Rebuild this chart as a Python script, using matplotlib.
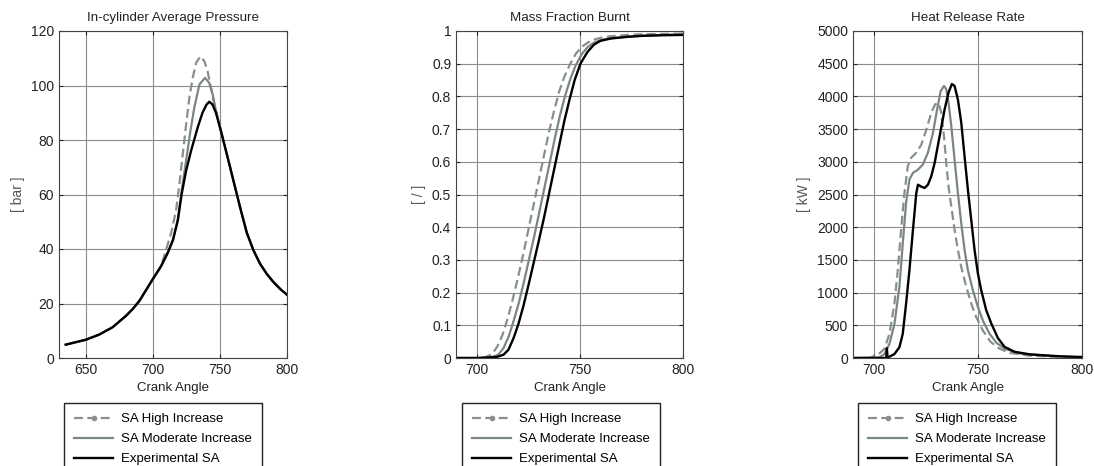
import numpy as np
import matplotlib
matplotlib.use("Agg")
import matplotlib.pyplot as plt
from matplotlib.lines import Line2D

plt.rcParams['font.family'] = ['Liberation Sans', 'DejaVu Sans']

# --- In-cylinder average pressure [bar] ---
p_exp_x = [635, 640, 650, 660, 670, 680, 685, 690, 695, 700, 706, 711, 715, 718.6, 721.5, 724.8,
           728.5, 733.4, 737, 740, 742.1, 744.5, 747, 750.7, 755.7, 760.6, 765.6, 770, 775, 780,
           785, 790, 795, 800]
p_exp_y = [4.9, 5.5, 6.7, 8.6, 11.3, 15.5, 18, 21, 25, 29, 33.6, 38.5, 43.3, 50.6, 60.3, 68.8,
           76.1, 84.6, 90, 93, 94.05, 93, 90, 83.4, 73.7, 64, 54.2, 46, 39.5, 34.5,
           30.8, 27.8, 25.3, 23.2]
p_mod_x = [635, 640, 650, 660, 670, 680, 685, 690, 695, 700, 706, 711, 714.9, 718.6, 721.5, 724.8,
           728, 730.9, 734.7, 738.9, 742, 744.6, 747, 750.7, 755.7, 760.6, 765.6, 770, 775, 780,
           785, 790, 795, 800]
p_mod_y = [4.9, 5.5, 6.7, 8.6, 11.3, 15.5, 18, 21, 25, 29, 33.6, 38.5, 43.3, 50.6, 61.5, 72.5,
           83.4, 91.9, 100.4, 102.8, 101, 96.7, 90.7, 83.4, 73.7, 64, 54.2, 46, 39.5, 34.5,
           30.8, 27.8, 25.3, 23.2]
p_high_x = [635, 640, 650, 660, 670, 680, 685, 690, 695, 700, 706, 709.9, 713.6, 717.3, 719.8,
            722.3, 724.8, 727.2, 729.7, 732.2, 735.4, 738.4, 740.8, 743.3, 745.8, 747.8, 750.7,
            755.7, 760.6, 765.6, 770, 775, 780, 785, 790, 795, 800]
p_high_y = [4.9, 5.5, 6.7, 8.6, 11.3, 15.5, 18, 21, 25, 29, 33.6, 39.8, 45.8, 54.2, 64,
            74.9, 85.8, 95.5, 102.8, 108.3, 110.7, 108.9, 105.2, 99.2, 93.1, 89.4, 83.4,
            73.7, 64, 54.2, 46, 39.5, 34.5, 30.8, 27.8, 25.3, 23.2]

# --- Mass fraction burnt [/] ---
m_exp_x = [690, 700, 709.7, 713, 715.4, 717.9, 720.3, 722.7, 725.2, 727.6, 730, 732.5, 735,
           737.5, 740, 742.5, 745, 747.5, 750.3, 753.6, 756.8, 760, 765, 773, 780, 790, 800]
m_exp_y = [0.0, 0.0, 0.003, 0.01, 0.025, 0.061, 0.105, 0.16, 0.225, 0.29, 0.355, 0.425, 0.5,
           0.575, 0.65, 0.725, 0.79, 0.85, 0.9, 0.935, 0.958, 0.97, 0.977, 0.982, 0.985, 0.987, 0.988]
m_mod_x = [690, 700, 707, 710.5, 713, 715.5, 718, 720.5, 723, 725.5, 728, 730.5, 733, 735.5,
           738, 740.5, 743, 745.5, 748, 751, 754, 757, 760, 765, 773, 780, 790, 800]
m_mod_y = [0.0, 0.0, 0.002, 0.01, 0.03, 0.065, 0.115, 0.17, 0.235, 0.305, 0.375, 0.45, 0.525,
           0.6, 0.675, 0.745, 0.805, 0.855, 0.895, 0.93, 0.952, 0.965, 0.972, 0.978, 0.983,
           0.986, 0.988, 0.99]
m_high_x = [690, 700, 704, 707.5, 710, 712.5, 715, 717.5, 720, 722.5, 725, 727.5, 730, 732.5,
            735, 737.5, 740, 742.5, 745, 748, 751, 754, 757, 760, 765, 773, 780, 790, 800]
m_high_y = [0.0, 0.0, 0.002, 0.012, 0.035, 0.07, 0.12, 0.18, 0.245, 0.315, 0.39, 0.465, 0.54,
            0.615, 0.69, 0.755, 0.815, 0.86, 0.895, 0.93, 0.952, 0.965, 0.974, 0.979, 0.984,
            0.988, 0.99, 0.991, 0.992]

# --- Heat release rate [kW] ---
h_exp_x = [690, 705.5, 706, 706.25, 706.6, 707.5, 709.9, 712.3, 713.9, 715.5, 717.1, 718.8, 720.4,
           721.2, 722.8, 724.4, 726, 727.6, 729.2, 731.6, 734, 735.9, 737.5, 738.8, 740.4, 742,
           743.6, 745.2, 746.8, 748.4, 750, 751.6, 754, 756.4, 759.6, 762.8, 767.6, 775, 790, 800]
h_exp_y = [0, 0, 20, 150, 15, 20, 60, 165, 370, 830, 1340, 1960, 2520,
           2650, 2620, 2600, 2650, 2780, 2980, 3390, 3800, 4060, 4190, 4160, 3950, 3600,
           3080, 2570, 2110, 1650, 1290, 1035, 730, 530, 305, 170, 95, 55, 25, 15]
h_mod_x = [690, 702.7, 705.1, 707.5, 709.9, 712.3, 713.9, 715.5, 717.1, 718.8, 721.2, 723.6, 726,
           728.4, 730.4, 732.1, 733.7, 734.8, 735.9, 737.2, 738.8, 740.4, 742, 743.6, 745.2,
           747.6, 750, 752.4, 755.6, 759, 763, 770, 785, 800]
h_mod_y = [0, 10, 60, 215, 520, 1090, 1750, 2370, 2730, 2830, 2880, 2960, 3140,
           3440, 3800, 4080, 4160, 4110, 3900, 3550, 3030, 2520, 2060, 1650, 1340,
           1035, 780, 570, 370, 230, 140, 70, 30, 10]
h_high_x = [690, 698, 700.3, 702.7, 705.1, 707.5, 709.9, 711.5, 713.1, 714.7, 716.3, 717.9, 720.4,
            722.8, 725.2, 727.6, 729.5, 731.1, 732.4, 733.7, 734.8, 735.9, 737.2, 738.8, 740.4,
            742, 744.4, 746.8, 749.2, 752.4, 756, 760, 765, 775, 800]
h_high_y = [0, 0, 35, 70, 140, 370, 830, 1340, 1960, 2520, 2930, 3060, 3140,
            3260, 3490, 3750, 3880, 3900, 3750, 3390, 2980, 2620, 2320, 1960, 1650,
            1390, 1090, 830, 625, 420, 250, 150, 80, 35, 5]

labels = ['SA High Increase', 'SA Moderate Increase', 'Experimental SA']
c_high = '#8a8e8e'
c_mod = '#7a8686'
c_exp = '#000000'

panels = [
    dict(title='In-cylinder Average Pressure', ylabel='[ bar ]', xlim=(630, 800), ylim=(0, 120),
         xticks=[650, 700, 750, 800], yticks=np.arange(0, 121, 20), yfmt=None,
         data=[(p_high_x, p_high_y), (p_mod_x, p_mod_y), (p_exp_x, p_exp_y)],
         left=59, width=228, leg_left=64),
    dict(title='Mass Fraction Burnt', ylabel='[ / ]', xlim=(690, 800), ylim=(0, 1),
         xticks=[700, 750, 800], yticks=np.round(np.arange(0, 1.01, 0.1), 1),
         yfmt=['0', '0.1', '0.2', '0.3', '0.4', '0.5', '0.6', '0.7', '0.8', '0.9', '1'],
         data=[(m_high_x, m_high_y), (m_mod_x, m_mod_y), (m_exp_x, m_exp_y)],
         left=456, width=227, leg_left=462),
    dict(title='Heat Release Rate', ylabel='[ kW ]', xlim=(690, 800), ylim=(0, 5000),
         xticks=[700, 750, 800], yticks=np.arange(0, 5001, 500), yfmt=None,
         data=[(h_high_x, h_high_y), (h_mod_x, h_mod_y), (h_exp_x, h_exp_y)],
         left=853, width=229, leg_left=858),
]

W, H = 1094, 466
fig = plt.figure(figsize=(W / 100, H / 100), dpi=100)

for p in panels:
    ax = fig.add_axes([p['left'] / W, 1 - 358 / H, p['width'] / W, (358 - 31) / H])
    (hx, hy), (mx, my), (ex, ey) = p['data']
    ax.plot(hx, hy, color=c_high, lw=1.6, ls=(0, (4, 2)))
    ax.plot(mx, my, color=c_mod, lw=1.6)
    ax.plot(ex, ey, color=c_exp, lw=1.7)
    ax.set_xlim(*p['xlim'])
    ax.set_ylim(*p['ylim'])
    ax.set_xticks(p['xticks'])
    ax.set_yticks(p['yticks'])
    if p['yfmt']:
        ax.set_yticklabels(p['yfmt'])
    ax.grid(True, color='#8c8c8c', lw=0.8)
    ax.tick_params(direction='in', top=True, right=True, length=3, labelsize=10, colors='#222222')
    for s in ax.spines.values():
        s.set_color('#444444')
        s.set_linewidth(0.8)
    ax.set_title(p['title'], fontsize=9.6, color='#222222', pad=7)
    ax.set_xlabel('Crank Angle', fontsize=9.5, color='#222222', labelpad=4)
    ax.set_ylabel(p['ylabel'], fontsize=10, color='#555555')

    handles = [Line2D([], [], color=c_high, lw=1.6, ls=(0, (4, 2)), marker='o', ms=3),
               Line2D([], [], color=c_mod, lw=1.6),
               Line2D([], [], color=c_exp, lw=1.7)]
    fig.legend(handles, labels, loc='upper left', bbox_to_anchor=(p['leg_left'] / W, 1 - 403 / H),
               fontsize=9.5, numpoints=1, handlelength=3.0, fancybox=False, framealpha=1,
               edgecolor='#222222', borderpad=0.75, labelspacing=0.6, handletextpad=0.6,
               borderaxespad=0)

fig.savefig('out.png', dpi=100)
